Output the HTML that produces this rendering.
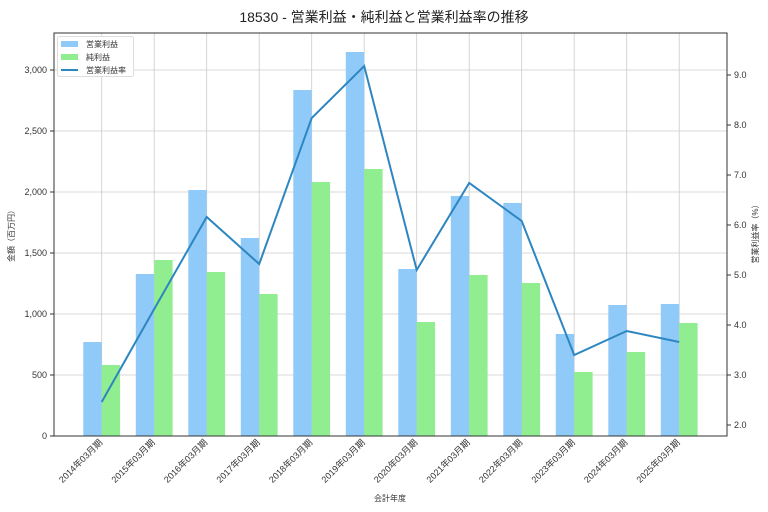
<!DOCTYPE html>
<html><head><meta charset="utf-8"><style>
body{margin:0;background:#fff;}
svg{display:block;font-family:"Liberation Sans","Noto Sans CJK JP",sans-serif;}
</style></head><body>
<svg width="768" height="512" viewBox="0 0 768 512" xmlns="http://www.w3.org/2000/svg">
<rect width="768" height="512" fill="#fff"/>
<text x="384" y="22" font-size="14" text-anchor="middle" fill="#222">18530 - 営業利益・純利益と営業利益率の推移</text>
<g stroke="#ccc" stroke-width="0.8">
<line x1="54" x2="727" y1="375" y2="375"/><line x1="54" x2="727" y1="314" y2="314"/><line x1="54" x2="727" y1="253" y2="253"/><line x1="54" x2="727" y1="192" y2="192"/><line x1="54" x2="727" y1="131" y2="131"/><line x1="54" x2="727" y1="70" y2="70"/>
<line x1="101.7" x2="101.7" y1="33" y2="436"/><line x1="154.2" x2="154.2" y1="33" y2="436"/><line x1="206.7" x2="206.7" y1="33" y2="436"/><line x1="259.2" x2="259.2" y1="33" y2="436"/><line x1="311.7" x2="311.7" y1="33" y2="436"/><line x1="364.2" x2="364.2" y1="33" y2="436"/><line x1="416.7" x2="416.7" y1="33" y2="436"/><line x1="469.2" x2="469.2" y1="33" y2="436"/><line x1="521.7" x2="521.7" y1="33" y2="436"/><line x1="574.2" x2="574.2" y1="33" y2="436"/><line x1="626.7" x2="626.7" y1="33" y2="436"/><line x1="679.2" x2="679.2" y1="33" y2="436"/>
</g>
<g fill="#90caf9">
<rect x="83.3" y="342" width="18.4" height="94"/><rect x="135.8" y="274" width="18.4" height="162"/><rect x="188.3" y="190" width="18.4" height="246"/><rect x="240.8" y="238" width="18.4" height="198"/><rect x="293.3" y="90" width="18.4" height="346"/><rect x="345.8" y="52" width="18.4" height="384"/><rect x="398.3" y="269" width="18.4" height="167"/><rect x="450.8" y="196" width="18.4" height="240"/><rect x="503.3" y="203" width="18.4" height="233"/><rect x="555.8" y="334" width="18.4" height="102"/><rect x="608.3" y="305" width="18.4" height="131"/><rect x="660.8" y="304" width="18.4" height="132"/>
</g>
<g fill="#90ee90">
<rect x="101.7" y="365" width="18.4" height="71"/><rect x="154.2" y="260" width="18.4" height="176"/><rect x="206.7" y="272" width="18.4" height="164"/><rect x="259.2" y="294" width="18.4" height="142"/><rect x="311.7" y="182" width="18.4" height="254"/><rect x="364.2" y="169" width="18.4" height="267"/><rect x="416.7" y="322" width="18.4" height="114"/><rect x="469.2" y="275" width="18.4" height="161"/><rect x="521.7" y="283" width="18.4" height="153"/><rect x="574.2" y="372" width="18.4" height="64"/><rect x="626.7" y="352" width="18.4" height="84"/><rect x="679.2" y="323" width="18.4" height="113"/>
</g>
<polyline fill="none" stroke="#2e86c1" stroke-width="2" points="101.7,402 154.2,309 206.7,217 259.2,264 311.7,118 364.2,66 416.7,270 469.2,183 521.7,221 574.2,355 626.7,331 679.2,342"/>
<g stroke="#333" stroke-width="1" fill="none"><rect x="54" y="33" width="673" height="403"/></g>
<g stroke="#333" stroke-width="1">
<line x1="50" x2="54" y1="436" y2="436"/><line x1="50" x2="54" y1="375" y2="375"/><line x1="50" x2="54" y1="314" y2="314"/><line x1="50" x2="54" y1="253" y2="253"/><line x1="50" x2="54" y1="192" y2="192"/><line x1="50" x2="54" y1="131" y2="131"/><line x1="50" x2="54" y1="70" y2="70"/>
<line x1="727" x2="731" y1="425" y2="425"/><line x1="727" x2="731" y1="375" y2="375"/><line x1="727" x2="731" y1="325" y2="325"/><line x1="727" x2="731" y1="275" y2="275"/><line x1="727" x2="731" y1="225" y2="225"/><line x1="727" x2="731" y1="175" y2="175"/><line x1="727" x2="731" y1="125" y2="125"/><line x1="727" x2="731" y1="75" y2="75"/>
</g>
<g font-size="9" fill="#333" text-anchor="end">
<text x="47" y="439">0</text><text x="47" y="378">500</text><text x="47" y="317">1,000</text><text x="47" y="256">1,500</text><text x="47" y="195">2,000</text><text x="47" y="134">2,500</text><text x="47" y="73">3,000</text>
</g>
<g font-size="9" fill="#333">
<text x="734" y="428">2.0</text><text x="734" y="378">3.0</text><text x="734" y="328">4.0</text><text x="734" y="278">5.0</text><text x="734" y="228">6.0</text><text x="734" y="178">7.0</text><text x="734" y="128">8.0</text><text x="734" y="78">9.0</text>
</g>
<g font-size="9" fill="#333" text-anchor="end">
<text transform="translate(103,443) rotate(-45)">2014年03月期</text><text transform="translate(155.5,443) rotate(-45)">2015年03月期</text><text transform="translate(208,443) rotate(-45)">2016年03月期</text><text transform="translate(260.5,443) rotate(-45)">2017年03月期</text><text transform="translate(313,443) rotate(-45)">2018年03月期</text><text transform="translate(365.5,443) rotate(-45)">2019年03月期</text><text transform="translate(418,443) rotate(-45)">2020年03月期</text><text transform="translate(470.5,443) rotate(-45)">2021年03月期</text><text transform="translate(523,443) rotate(-45)">2022年03月期</text><text transform="translate(575.5,443) rotate(-45)">2023年03月期</text><text transform="translate(628,443) rotate(-45)">2024年03月期</text><text transform="translate(680.5,443) rotate(-45)">2025年03月期</text>
</g>
<text x="390" y="501" font-size="8" text-anchor="middle" fill="#333">会計年度</text>
<text transform="translate(14,234) rotate(-90)" font-size="8" text-anchor="middle" fill="#333">金額（百万円）</text>
<text transform="translate(758,232) rotate(-90)" font-size="8" text-anchor="middle" fill="#333">営業利益率（%）</text>
<rect x="57.5" y="36.5" width="76" height="40" fill="#fff" stroke="#ddd" rx="2"/>
<rect x="61" y="41" width="17" height="6" fill="#90caf9"/>
<rect x="61" y="54" width="17" height="6" fill="#90ee90"/>
<line x1="61" x2="78" y1="70" y2="70" stroke="#2e86c1" stroke-width="2"/>
<g font-size="8" fill="#333"><text x="86" y="47">営業利益</text><text x="86" y="60">純利益</text><text x="86" y="73">営業利益率</text></g>
</svg>
</body></html>
